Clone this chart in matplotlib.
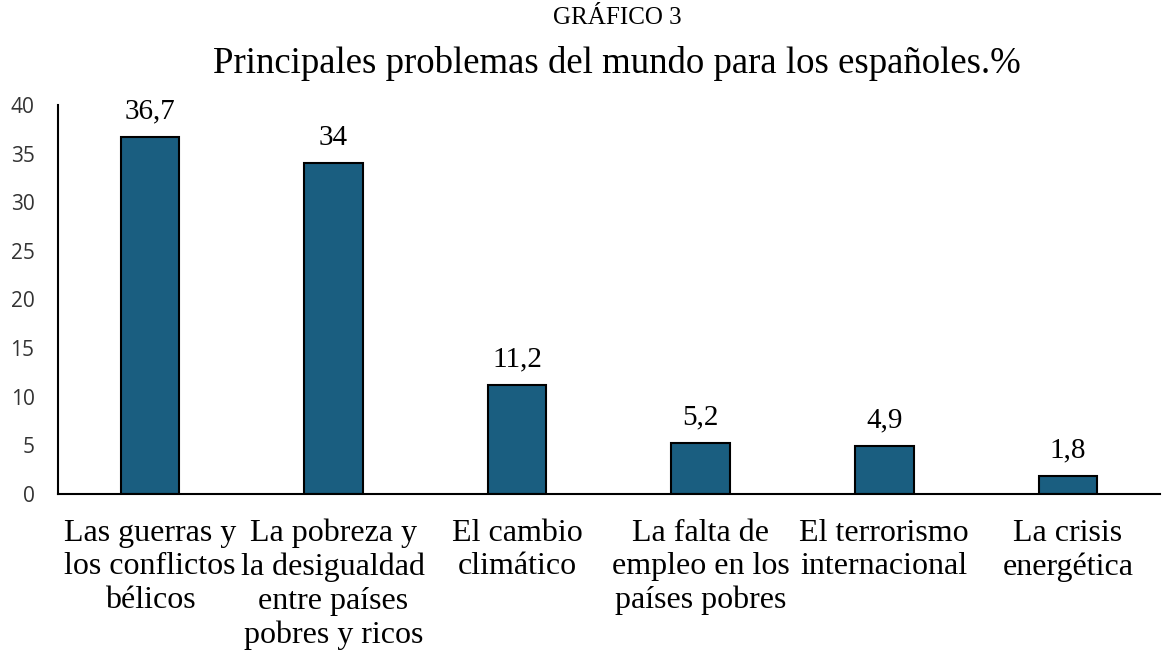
import numpy as np
import matplotlib.pyplot as plt

categorias = ['Las guerras y\nlos conflictos\nbélicos',
              'La pobreza y\nla desigualdad\nentre países\npobres y ricos',
              'El cambio\nclimático',
              'La falta de\nempleo en los\npaíses pobres',
              'El terrorismo\ninternacional',
              'La crisis\nenergética']
valores = [36.7, 34, 11.2, 5.2, 4.9, 1.8]
etiquetas = ['36,7', '34', '11,2', '5,2', '4,9', '1,8']

serif = 'Liberation Serif'

fig = plt.figure(figsize=(11.62, 6.56), dpi=100)
ax = fig.add_axes([0.05, 0.247, 0.948, 0.593])

x = np.arange(len(valores))
ax.bar(x, valores, width=0.32, color='#1A5E80', edgecolor='black', linewidth=1.5)

for xi, v, lab in zip(x, valores, etiquetas):
    ax.text(xi, v + 1.3, lab, ha='center', va='bottom', family=serif, fontsize=21)

ax.set_xlim(-0.5, 5.5)
ax.set_ylim(0, 40)
ax.set_yticks(np.arange(0, 41, 5))
ax.set_xticks(x)
ax.set_xticklabels(categorias, family=serif, fontsize=23, linespacing=1.2)
ax.tick_params(axis='x', length=0, pad=18)
ax.tick_params(axis='y', length=0, pad=17, labelsize=15, labelcolor='#333333')
for lab in ax.get_yticklabels():
    lab.set_family('Open Sans')

for s in ['top', 'right']:
    ax.spines[s].set_visible(False)
ax.spines['left'].set_linewidth(1.5)
ax.spines['bottom'].set_linewidth(1.5)

fig.text(0.531, 0.972, 'GRÁFICO 3', ha='center', va='center', family=serif, fontsize=18)
fig.text(0.531, 0.903, 'Principales problemas del mundo para los españoles.%', ha='center',
         va='center', family=serif, fontsize=26.5)

fig.savefig('out.png', dpi=100)
